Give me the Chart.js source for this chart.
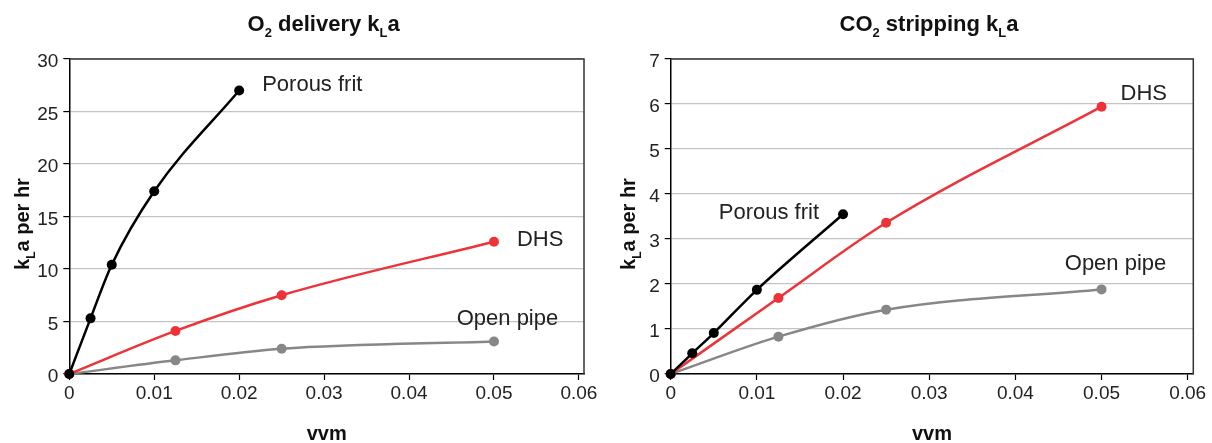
<!DOCTYPE html>
<html><head><meta charset="utf-8">
<script src="https://cdn.jsdelivr.net/npm/chart.js@4.4.0/dist/chart.umd.min.js"></script>
<style>
html,body{margin:0;padding:0;background:#fff;}
#wrap{position:relative;width:1212px;height:443px;}
.pane{position:absolute;top:0;width:606px;height:443px;}
canvas{display:block;}
</style></head><body>
<div id="wrap">
<div class="pane" style="left:0"><canvas id="c1" width="606" height="443"></canvas></div>
<div class="pane" style="left:606px"><canvas id="c2" width="606" height="443"></canvas></div>
</div>
<script>
// ---- data ----
const seriesNames = ['Porous frit', 'DHS', 'Open pipe'];
const xPorous = [0, 0.0025, 0.005, 0.01, 0.02];
const xDHS = [0, 0.0125, 0.025, 0.05];
const xOpen = [0, 0.0125, 0.025, 0.05];
const o2Porous = [0, 5.3, 10.4, 17.4, 27.0];
const o2DHS = [0, 4.1, 7.5, 12.6];
const o2Open = [0, 1.3, 2.4, 3.1];
const co2Porous = [0, 0.46, 0.91, 1.87, 3.55];
const co2DHS = [0, 1.69, 3.36, 5.94];
const co2Open = [0, 0.83, 1.43, 1.88];
const xTicks = [0, 0.01, 0.02, 0.03, 0.04, 0.05, 0.06];
const o2Ticks = [0, 5, 10, 15, 20, 25, 30];
const co2Ticks = [0, 1, 2, 3, 4, 5, 6, 7];
const xTitle = 'vvm';
const yTitleParts = [['k', 0], ['L', 1], ['a per hr', 0]];
const o2TitleParts = [['O', 0], ['2', 1], [' delivery k', 0], ['L', 1], ['a', 0]];
const co2TitleParts = [['CO', 0], ['2', 1], [' stripping k', 0], ['L', 1], ['a', 0]];

// ---- styles ----
const colors = ['#000000', '#ee3338', '#878787'];
const FONT = '"Liberation Sans", Arial, sans-serif';

function pts(xs, ys) { return xs.map((x, i) => ({ x: x, y: ys[i] })); }

function drawRich(ctx, parts, size, subSize, subShift) {
  let w = 0;
  parts.forEach(p => { ctx.font = 'bold ' + (p[1] ? subSize : size) + 'px ' + FONT; w += ctx.measureText(p[0]).width; });
  let x = -w / 2;
  parts.forEach(p => {
    ctx.font = 'bold ' + (p[1] ? subSize : size) + 'px ' + FONT;
    ctx.fillText(p[0], x, p[1] ? subShift : 0);
    x += ctx.measureText(p[0]).width;
  });
}

const decoPlugin = {
  id: 'deco',
  afterDraw(chart, args, opts) {
    const ctx = chart.ctx, a = chart.chartArea;
    ctx.save();
    ctx.strokeStyle = '#333';
    ctx.lineWidth = 1.5;
    ctx.beginPath();
    ctx.moveTo(a.left, a.top); ctx.lineTo(a.right, a.top); ctx.lineTo(a.right, a.bottom);
    ctx.stroke();
    ctx.fillStyle = '#111';
    ctx.textAlign = 'left';
    ctx.textBaseline = 'alphabetic';
    ctx.save();
    ctx.translate((a.left + a.right) / 2 - 3, 31);
    drawRich(ctx, opts.title, 22, 13, 6);
    ctx.restore();
    ctx.save();
    ctx.translate(28.5, 224);
    ctx.rotate(-Math.PI / 2);
    drawRich(ctx, yTitleParts, 20, 12, 6);
    ctx.restore();
    ctx.save();
    ctx.translate((a.left + a.right) / 2, 440);
    drawRich(ctx, [[xTitle, 0]], 20, 12, 6);
    ctx.restore();
    ctx.restore();
  },
  afterDatasetsDraw(chart, args, opts) {
    const ctx = chart.ctx;
    ctx.save();
    ctx.font = '22px ' + FONT;
    ctx.fillStyle = '#222';
    ctx.textBaseline = 'middle';
    chart.data.datasets.forEach((ds, i) => {
      const meta = chart.getDatasetMeta(i);
      const pt = meta.data[meta.data.length - 1];
      const o = opts.offsets[i];
      ctx.textAlign = o.align;
      ctx.fillText(ds.label, pt.x + o.dx, pt.y + o.dy);
    });
    ctx.restore();
  }
};

function makeChart(id, series, yTicks, yMax, xMax, yWidth, padRight, title, offsets) {
  const datasets = series.map((s, i) => ({
    label: seriesNames[i],
    data: pts(s[0], s[1]),
    borderColor: colors[i],
    backgroundColor: colors[i],
    borderWidth: 2.5,
    pointRadius: 5,
    pointHoverRadius: 5,
    pointBorderWidth: 0,
    cubicInterpolationMode: 'monotone',
    clip: false
  }));
  return new Chart(document.getElementById(id), {
    type: 'line',
    data: { datasets: datasets },
    plugins: [decoPlugin],
    options: {
      responsive: false,
      animation: false,
      devicePixelRatio: 1,
      layout: { padding: { top: 59, right: padRight, bottom: 0, left: 0 } },
      plugins: {
        legend: { display: false },
        tooltip: { enabled: false },
        deco: { title: title, offsets: offsets }
      },
      scales: {
        x: {
          type: 'linear',
          min: 0, max: xMax,
          afterBuildTicks: s => { s.ticks = xTicks.map(v => ({ value: v })); },
          afterFit: s => { s.height = 69; },
          ticks: { color: '#222', font: { family: FONT, size: 19 }, padding: 2, maxRotation: 0, autoSkip: false,
                   callback: v => String(v) },
          grid: { drawOnChartArea: false, drawTicks: true, tickLength: 6, tickColor: '#000', tickWidth: 1.2 },
          border: { color: '#000', width: 1.5 }
        },
        y: {
          type: 'linear',
          min: 0, max: yMax,
          afterBuildTicks: s => { s.ticks = yTicks.map(v => ({ value: v })); },
          afterFit: s => { s.width = yWidth; },
          ticks: { color: '#222', font: { family: FONT, size: 19 }, padding: 5, labelOffset: 3, autoSkip: false,
                   callback: v => String(v) },
          grid: { color: '#c4c4c4', lineWidth: 1.2, drawTicks: true, tickLength: 6, tickColor: '#000', tickWidth: 1.2 },
          border: { color: '#000', width: 1.5 }
        }
      }
    }
  });
}

makeChart('c1',
  [[xPorous, o2Porous], [xDHS, o2DHS], [xOpen, o2Open]],
  o2Ticks, 30, 0.0606, 69.3, 22, o2TitleParts,
  [{ dx: 23, dy: -6, align: 'left' }, { dx: 23, dy: -2, align: 'left' }, { dx: 13.5, dy: -23, align: 'center' }]);

makeChart('c2',
  [[xPorous, co2Porous], [xDHS, co2DHS], [xOpen, co2Open]],
  co2Ticks, 7, 0.06065, 64.7, 18.7, co2TitleParts,
  [{ dx: -24, dy: -1, align: 'right' }, { dx: 19, dy: -13, align: 'left' }, { dx: 14, dy: -25, align: 'center' }]);
</script>
</body></html>
